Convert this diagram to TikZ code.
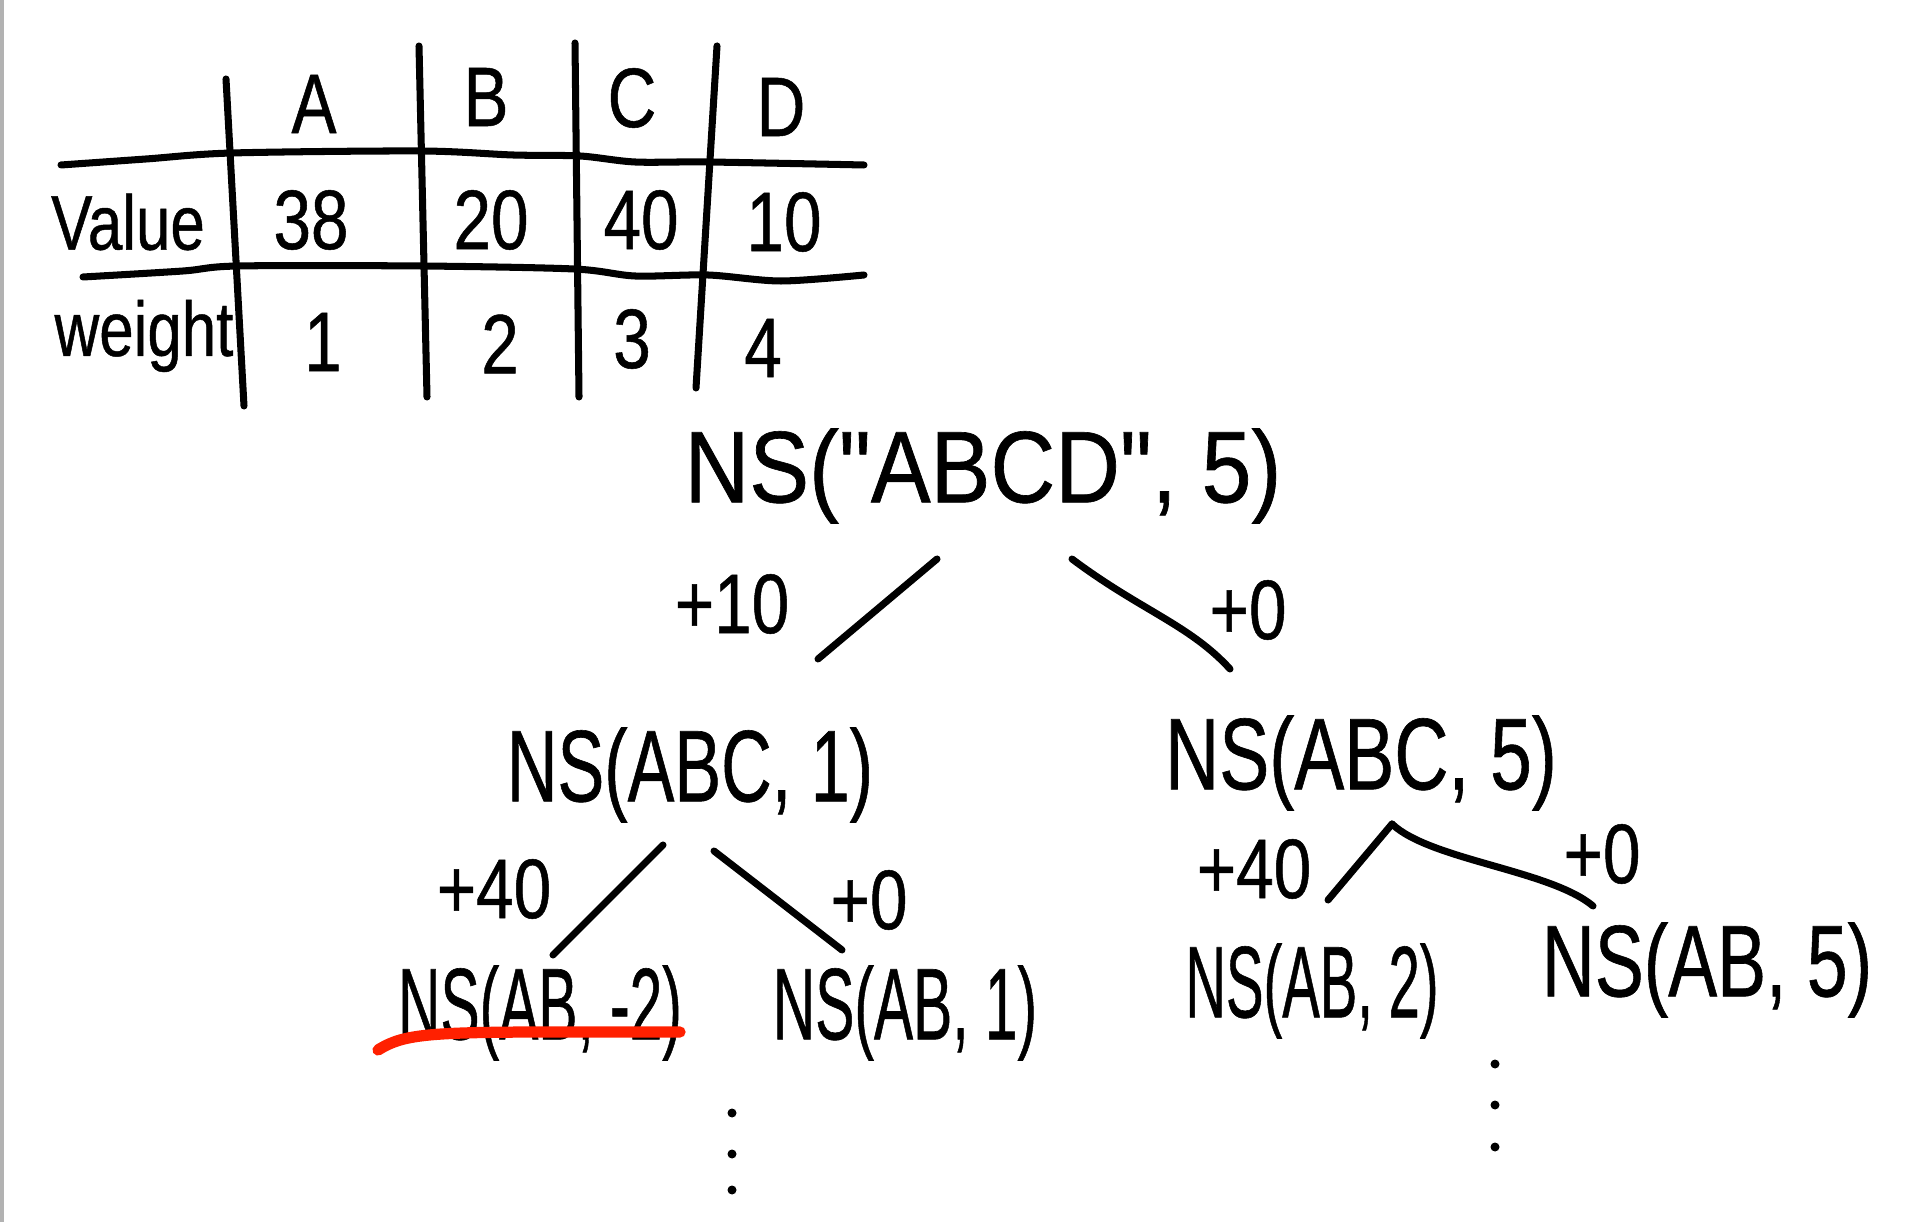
\documentclass[tikz,border=0pt]{standalone}
\usepackage{graphicx}
\usepackage{fontspec}
\newfontfamily\handfont[FakeStretch=0.8, FakeBold=0.6]{Liberation Sans}
\newcommand{\narrow}[2]{\scalebox{#1}[1]{#2}}

\begin{document}
\begin{tikzpicture}[x=1cm, y=-1cm,
    pen/.style={line width=2pt, line cap=round, line join=round},
    cell/.style={font=\handfont\fontsize{22}{26}\selectfont},
    head/.style={font=\handfont\fontsize{24}{28}\selectfont},
    state/.style={font=\handfont\fontsize{29}{33}\selectfont},
    gain/.style={font=\handfont\fontsize{24}{28}\selectfont}]
    \useasboundingbox (0,0) rectangle (19.14,12.22);
    \draw[gray!60, line width=1pt] (0.02,0) -- (0.02,12.22);

    % table
    \draw[pen] (2.26,0.79) -- (2.44,4.06);
    \draw[pen] (4.19,0.46) -- (4.27,3.97);
    \draw[pen] (5.75,0.43) -- (5.79,3.97);
    \draw[pen] (7.17,0.46) -- (6.96,3.88);
    \draw[pen] plot[smooth] coordinates {(0.61,1.65) (1.46,1.59) (2.32,1.53) (4.21,1.51)
      (5.13,1.55) (5.80,1.56) (6.35,1.62) (7.08,1.62) (8.64,1.65)};
    \draw[pen] plot[smooth] coordinates {(0.83,2.77) (1.83,2.71) (2.38,2.66) (4.21,2.66)
      (5.74,2.69) (6.35,2.76) (7.08,2.75) (7.81,2.81) (8.64,2.75)};

    \node[head] (colA) at (3.14,1.04) {A};
    \node[head] (colB) at (4.86,0.97) {B};
    \node[head] (colC) at (6.32,0.98) {C};
    \node[head] (colD) at (7.81,1.07) {D};
    \node[cell] (rowV) at (1.28,2.22) {Value};
    \node[cell] (rowW) at (1.44,3.36) {weight};
    \node[head] (valA) at (3.11,2.20) {38};
    \node[head] (valB) at (4.91,2.20) {20};
    \node[head] (valC) at (6.41,2.20) {40};
    \node[head] (valD) at (7.84,2.22) {10};
    \node[head] (wA) at (3.23,3.42) {1};
    \node[head] (wB) at (5.00,3.44) {2};
    \node[head] (wC) at (6.32,3.39) {3};
    \node[head] (wD) at (7.63,3.48) {4};

    % tree
    \node[state] (root) at (9.83,4.76) {\narrow{1.1}{NS("ABCD", 5)}};
    \node[state] (abc1) at (6.90,7.75) {\narrow{0.86}{NS(ABC, 1)}};
    \node[state] (abc5) at (13.61,7.63) {\narrow{0.92}{NS(ABC, 5)}};
    \node[state] (abm2) at (5.40,10.13) {\narrow{0.72}{NS(AB, -2)}};
    \node[state] (ab1) at (9.05,10.13) {\narrow{0.72}{NS(AB, 1)}};
    \node[state] (ab2) at (13.12,9.91) {\narrow{0.69}{NS(AB, 2)}};
    \node[state] (ab5) at (17.07,9.70) {\narrow{0.9}{NS(AB, 5)}};

    \coordinate (rootL) at (9.37,5.59);
    \coordinate (rootR) at (10.72,5.59);
    \coordinate (abc1T) at (8.18,6.59);
    \coordinate (abc5T) at (12.30,6.69);
    \coordinate (abc1L) at (6.63,8.45);
    \coordinate (abc1R) at (7.14,8.51);
    \coordinate (abc5B) at (13.92,8.24);
    \coordinate (abm2T) at (5.53,9.55);
    \coordinate (ab1T) at (8.42,9.50);
    \coordinate (ab2T) at (13.28,9.00);
    \coordinate (ab5T) at (15.93,9.06);

    \draw[pen] (rootL) -- (abc1T);
    \draw[pen] (rootR) .. controls (11.40,6.10) and (11.90,6.25) .. (abc5T);
    \draw[pen] (abc1L) -- (abm2T);
    \draw[pen] (abc1R) -- (ab1T);
    \draw[pen] (abc5B) -- (ab2T);
    \draw[pen] (abc5B) .. controls (14.30,8.60) and (15.50,8.70) .. (ab5T);

    \node[gain] (g1) at (7.32,6.04) {+10};
    \node[gain] (g2) at (12.48,6.10) {+0};
    \node[gain] (g3) at (4.94,8.89) {+40};
    \node[gain] (g4) at (8.69,9.00) {+0};
    \node[gain] (g5) at (12.54,8.69) {+40};
    \node[gain] (g6) at (16.02,8.54) {+0};

    \draw[pen, red!75!orange, line width=3.2pt] (3.78,10.50) .. controls (4.10,10.30) and (4.40,10.32) .. (6.80,10.32);

    \foreach \y in {11.13,11.54,11.90} \fill (7.32,\y) circle (0.045);
    \foreach \y in {10.64,11.05,11.47} \fill (14.95,\y) circle (0.045);
\end{tikzpicture}
\end{document}
